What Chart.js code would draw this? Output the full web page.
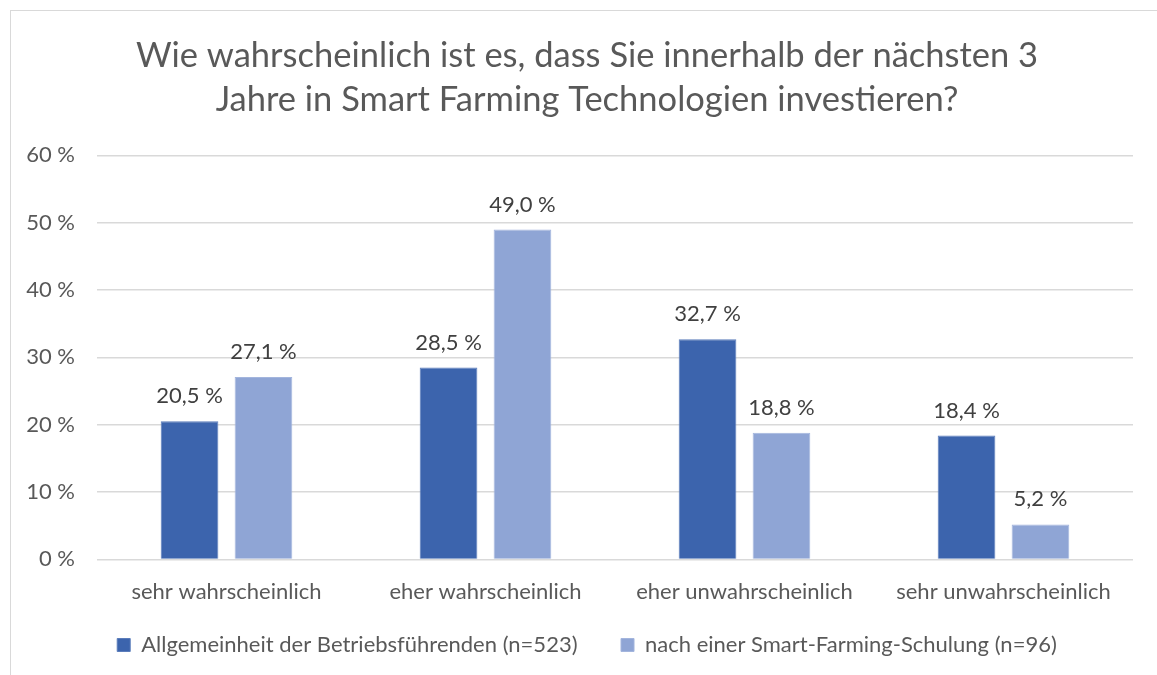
<!DOCTYPE html>
<html>
<head>
<meta charset="utf-8">
<script src="https://cdn.jsdelivr.net/npm/chart.js@4"></script>
<style>
    body { margin: 0; background: #fff; }
    #box { position: absolute; left: 10px; top: 10px; width: 1200px; height: 700px; border: 1px solid #d9d9d9; }
    #wrap { position: absolute; left: 0; top: 0; width: 1157px; height: 675px; }
</style>
</head>
<body>
<div id="box"></div>
<div id="wrap"><canvas id="chart1"></canvas></div>
<script>
const kategorien = ['sehr wahrscheinlich', 'eher wahrscheinlich', 'eher unwahrscheinlich', 'sehr unwahrscheinlich'];
const werte_allgemein = [20.5, 28.5, 32.7, 18.4];
const werte_schulung = [27.1, 49.0, 18.8, 5.2];
const y_ticks = [0, 10, 20, 30, 40, 50, 60];

const schrift = 'Lato, "Open Sans", sans-serif';

// Datenbeschriftungen ueber den Balken
const labels_plugin = {
    id: 'labels_plugin',
    afterDatasetsDraw(chart) {
        const ctx = chart.ctx;
        ctx.save();
        ctx.font = '22px ' + schrift;
        ctx.fillStyle = '#404040';
        ctx.textAlign = 'center';
        ctx.textBaseline = 'bottom';
        chart.data.datasets.forEach(function (ds, i) {
            chart.getDatasetMeta(i).data.forEach(function (bar, j) {
                const txt = ds.data[j].toFixed(1).replace('.', ',') + ' %';
                ctx.fillText(txt, bar.x, bar.y - 14);
            });
        });
        ctx.restore();
    }
};

// y-Achsenbeschriftung links neben der Achse (ausserhalb der Achsenbox)
const y_labels_plugin = {
    id: 'y_labels_plugin',
    afterDraw(chart) {
        const ctx = chart.ctx;
        const y = chart.scales.y;
        ctx.save();
        ctx.font = '22px ' + schrift;
        ctx.fillStyle = '#595959';
        ctx.textAlign = 'right';
        ctx.textBaseline = 'middle';
        y_ticks.forEach(function (v) {
            ctx.fillText(v + ' %', chart.chartArea.left - 22, y.getPixelForValue(v));
        });
        ctx.restore();
    }
};

const data_umfrage = {
    labels: kategorien,
    datasets: [{
        label: 'Allgemeinheit der Betriebsführenden (n=523)',
        data: werte_allgemein,
        backgroundColor: '#3c64ad',
        borderColor: '#5b7dbb',
        borderWidth: 1,
    }, {
        label: 'nach einer Smart-Farming-Schulung (n=96)',
        data: werte_schulung,
        backgroundColor: '#8fa5d5',
        borderColor: '#a3b5dd',
        borderWidth: 1,
    }],
};

const config_umfrage = {
    type: 'bar',
    data: data_umfrage,
    options: {
        responsive: true,
        maintainAspectRatio: false,
        animation: false,
        categoryPercentage: 0.571,
        barPercentage: 0.78,
        layout: {
            padding: { left: 41, right: 24, top: 22, bottom: 9 },
        },
        scales: {
            x: {
                afterFit(scale) { scale.height = 58.6; },
                grid: { display: false },
                border: { display: false },
                ticks: {
                    color: '#595959',
                    font: { family: schrift, size: 22 },
                    padding: 11,
                },
            },
            y: {
                min: 0,
                max: 60,
                afterFit(scale) { scale.width = 56; },
                afterBuildTicks(scale) { scale.ticks = y_ticks.map(v => ({ value: v })); },
                grid: { color: '#d9d9d9', lineWidth: 1.5, drawTicks: false },
                border: { display: false },
                ticks: { display: false },
            },
        },
        plugins: {
            legend: {
                position: 'bottom',
                labels: {
                    color: '#595959',
                    font: { family: schrift, size: 22 },
                    boxWidth: 13,
                    boxHeight: 13,
                    padding: 16,
                    generateLabels(chart) {
                        const items = Chart.defaults.plugins.legend.labels.generateLabels(chart);
                        items[0].text += '\u2003\u2002';
                        return items;
                    },
                },
            },
            tooltip: { enabled: false },
            title: {
                display: true,
                text: ['Wie wahrscheinlich ist es, dass Sie innerhalb der nächsten 3', 'Jahre in Smart Farming Technologien investieren?'],
                color: '#595959',
                font: { family: schrift, size: 34.5, weight: 'normal', lineHeight: 1.3 },
                padding: { top: 11, bottom: 32.7 },
            },
        },
    },
    plugins: [labels_plugin, y_labels_plugin],
};

const ctx_umfrage = document.getElementById('chart1').getContext('2d');
const umfrage = new Chart(ctx_umfrage, config_umfrage);
</script>
</body>
</html>
